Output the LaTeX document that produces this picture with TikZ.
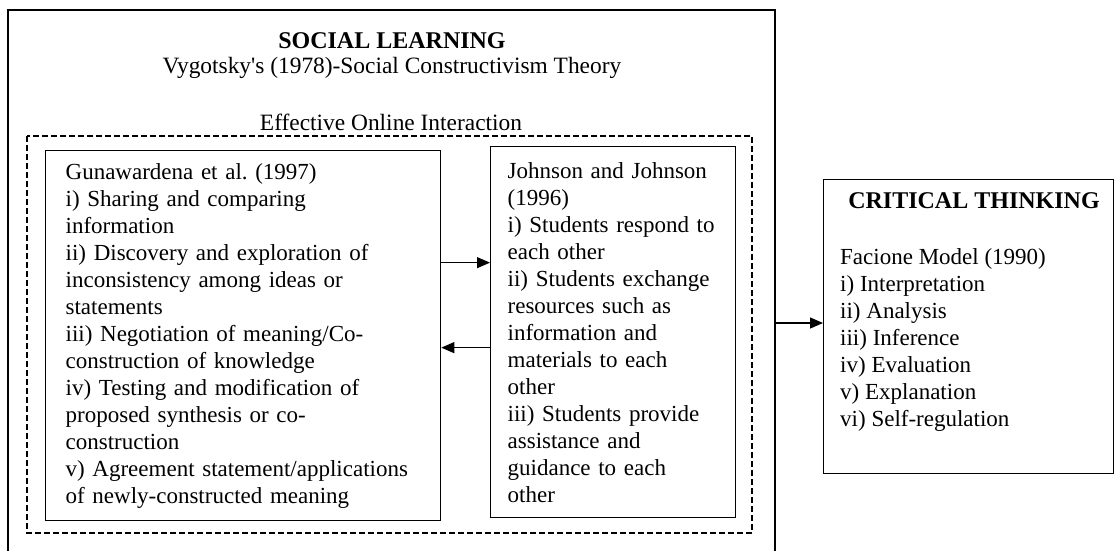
\documentclass[tikz,border=0pt]{standalone}
\usepackage{fontspec}
\setmainfont{Liberation Serif}
\usetikzlibrary{positioning,arrows.meta}

\tikzset{
  box/.style={draw, line width=1.3pt, rectangle, anchor=north west, align=left,
    font=\fontsize{23}{27}\selectfont},
  arr/.style={-{Triangle[length=13pt,width=11pt]}, line width=1.2pt},
}

\begin{document}
\frenchspacing
\begin{tikzpicture}[x=1pt, y=-1pt, font=\fontsize{23.4}{27}\selectfont]
        \useasboundingbox (0,0) rectangle (1116,551);

        % outer frame of social learning (runs past the bottom edge)
        \draw[line width=1.3pt] (8,570) -- (8,10) -- (775,10) -- (775,570);
        \coordinate (outerE) at (775,323);

        \node (sl) at (392,41) {\fontsize{24}{27}\selectfont\textbf{SOCIAL LEARNING}};
        \node (vy) at (392,68) {Vygotsky\textquotesingle s (1978)-Social Constructivism Theory};
        \node (eoi) at (391,122) {Effective Online Interaction};

        % dashed frame
        \draw[line width=1.3pt, dash pattern=on 6pt off 3pt] (27,136) rectangle (752,533);

        \node (gun) [box, minimum width=395pt, minimum height=370pt, inner xsep=20pt, text width=355pt] at (45,150) {
            Gunawardena et al. (1997)\\
            i) Sharing and comparing\\
            information\\
            ii) Discovery and exploration of\\
            inconsistency among ideas or\\
            statements\\
            iii) Negotiation of meaning/Co-\\
            construction of knowledge\\
            iv) Testing and modification of\\
            proposed synthesis or co-\\
            construction\\
            v) Agreement statement/applications\\
            of newly-constructed meaning
        };

        \node (joh) [box, minimum width=245pt, minimum height=371pt, inner xsep=17pt, text width=211pt] at (490,146) {
            Johnson and Johnson\\
            (1996)\\
            i) Students respond to\\
            each other\\
            ii) Students exchange\\
            resources such as\\
            information and\\
            materials to each\\
            other\\
            iii) Students provide\\
            assistance and\\
            guidance to each\\
            other
        };

        \node (ct) [box, minimum width=290pt, minimum height=294pt] at (823,179) {};
        \node (cttitle) at (974,201) {\fontsize{24}{27}\selectfont\textbf{CRITICAL THINKING}};
        \node (ctlist) [anchor=north west, align=left, inner sep=0pt, font=\fontsize{23}{27}\selectfont] at (840,248) {
            Facione Model (1990)\\
            i) Interpretation\\
            ii) Analysis\\
            iii) Inference\\
            iv) Evaluation\\
            v) Explanation\\
            vi) Self-regulation
        };

        % Drawing arrows between the boxes
        \draw[arr] ([yshift=73pt]gun.east) -- ([yshift=73pt]gun.east -| joh.west);
        \draw[arr] ([yshift=-12pt]gun.east -| joh.west) -- ([yshift=-12pt]gun.east);
        \draw[arr] (outerE) -- (outerE -| ct.west);
    \end{tikzpicture}
\end{document}
